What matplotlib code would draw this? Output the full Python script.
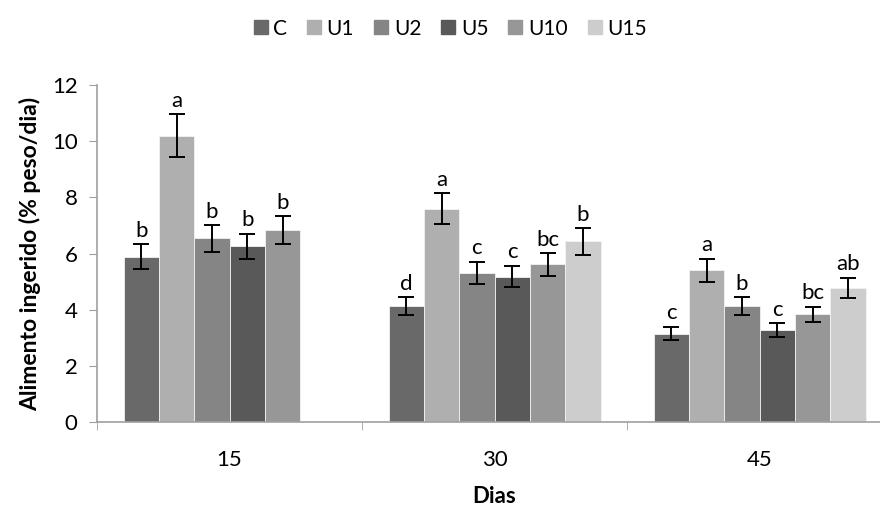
import matplotlib
matplotlib.use('Agg')
import matplotlib.pyplot as plt
from matplotlib.lines import Line2D
import numpy as np

plt.rcParams['font.family'] = ['Lato', 'DejaVu Sans']

dias = ['15', '30', '45']
series = ['C', 'U1', 'U2', 'U5', 'U10', 'U15']
colors = ['#696969', '#afafaf', '#858585', '#595959', '#979797', '#cdcdcd']

valores = {
    'C':   [5.89, 4.13, 3.15],
    'U1':  [10.20, 7.60, 5.41],
    'U2':  [6.54, 5.32, 4.13],
    'U5':  [6.26, 5.18, 3.27],
    'U10': [6.83, 5.61, 3.83],
    'U15': [0.0, 6.43, 4.78],
}
erros = {
    'C':   [0.45, 0.31, 0.24],
    'U1':  [0.75, 0.55, 0.41],
    'U2':  [0.47, 0.39, 0.31],
    'U5':  [0.45, 0.38, 0.25],
    'U10': [0.50, 0.41, 0.27],
    'U15': [0.0, 0.47, 0.36],
}
letras = {
    'C':   ['b', 'd', 'c'],
    'U1':  ['a', 'a', 'a'],
    'U2':  ['b', 'c', 'b'],
    'U5':  ['b', 'c', 'c'],
    'U10': ['b', 'bc', 'bc'],
    'U15': ['', 'b', 'ab'],
}

fig = plt.figure(figsize=(8.8, 5.09), dpi=100)
ax = fig.add_axes([97 / 880, 87 / 509, 795 / 880, 337 / 509])

x = np.arange(len(dias))
w = 1 / 7.5
for i, s in enumerate(series):
    pos = x + (i - 2.5) * w
    ax.bar(pos, valores[s], width=w, color=colors[i], edgecolor='#f2f2f2',
           linewidth=0.6, zorder=2)
    yerr = np.array(erros[s])
    vals = np.array(valores[s])
    mask = yerr > 0
    ax.errorbar(pos[mask], vals[mask], yerr=yerr[mask], fmt='none',
                ecolor='black', elinewidth=1.4, capsize=5.5, capthick=1.4, zorder=3)
    for p, v, e, t in zip(pos, vals, yerr, letras[s]):
        if t:
            ax.text(p, v + e + 0.12, t, ha='center', va='bottom', fontsize=16)

ax.set_xlim(-0.5, 2.5)
ax.set_ylim(0, 12)
ax.set_yticks(range(0, 13, 2))
ax.set_xticks(x)
ax.set_xticklabels(dias)
ax.set_xticks([-0.5, 0.5, 1.5, 2.5], minor=True)
ax.tick_params(axis='x', which='major', length=0, labelsize=16, pad=20)
ax.tick_params(axis='x', which='minor', length=6, color='#a0a0a0', direction='out')
ax.tick_params(axis='y', labelsize=16, length=6, color='#a0a0a0', pad=8)

for side in ['top', 'right']:
    ax.spines[side].set_visible(False)
for side in ['left', 'bottom']:
    ax.spines[side].set_color('#a0a0a0')
    ax.spines[side].set_linewidth(1.2)

ax.set_xlabel('Dias', fontsize=16, fontweight='bold', labelpad=12)
ax.set_ylabel('Alimento ingerido (% peso/dia)', fontsize=16.5, fontweight='bold', labelpad=8)

handles = [Line2D([], [], linestyle='none', marker='s', markersize=10,
                  markerfacecolor=c, markeredgecolor=c) for c in colors]
fig.legend(handles, series, loc='upper center', bbox_to_anchor=(0.512, 1.0), ncol=6,
           frameon=False, fontsize=15, handlelength=0.6, handletextpad=0.3,
           columnspacing=1.0)

fig.savefig('out.png', dpi=100)
